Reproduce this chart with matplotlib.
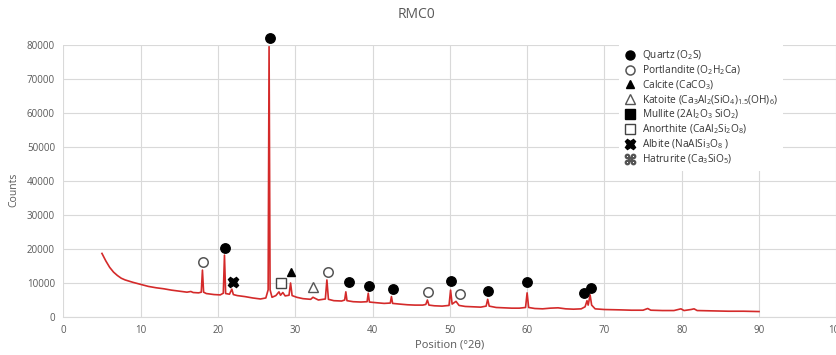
import matplotlib
matplotlib.use('Agg')
import matplotlib.pyplot as plt
from matplotlib.lines import Line2D

# XRD profile RMC0
two_theta = [5.0, 5.5, 6.0, 6.5, 7.0, 7.5, 8.0, 9.0, 10.0, 11.0, 12.0, 13.0, 14.0, 15.0,
             16.0, 16.5, 16.8, 17.5, 17.85, 18.0, 18.15, 18.5, 19.5, 20.3, 20.7, 20.85,
             21.0, 21.5, 21.8, 22.0, 22.5, 23.5, 24.5, 25.5, 26.2, 26.5, 26.62, 26.75,
             27.0, 27.5, 27.9, 28.1, 28.4, 28.7, 29.2, 29.4, 29.6, 30.2, 31.0, 32.0,
             32.3, 33.0, 33.9, 34.1, 34.3, 35.0, 36.0, 36.4, 36.55, 36.7, 37.5, 38.5,
             39.3, 39.45, 39.6, 40.5, 41.5, 42.3, 42.45, 42.6, 43.5, 44.5, 45.5, 46.5,
             46.9, 47.1, 47.3, 48.0, 49.0, 49.9, 50.1, 50.3, 50.8, 51.2, 52.0, 53.0,
             54.0, 54.7, 54.9, 55.1, 56.0, 57.0, 58.0, 59.0, 59.8, 60.0, 60.2, 61.0,
             62.0, 63.0, 64.0, 65.0, 66.0, 67.0, 67.5, 67.75, 67.9, 68.15, 68.35, 68.8,
             70.0, 72.0, 73.5, 75.0, 75.6, 76.0, 77.5, 79.0, 79.9, 80.3, 81.2, 81.6,
             82.0, 84.0, 86.0, 88.0, 90.0]
counts = [18700, 16500, 14600, 13200, 12200, 11400, 10900, 10200, 9600, 9000, 8600, 8300, 7900, 7600,
          7300, 7500, 7200, 7100, 7300, 13800, 7300, 6900, 6600, 6500, 7000, 18200,
          6900, 6700, 8200, 6600, 6300, 6000, 5600, 5300, 5600, 8000, 79500, 8000,
          5800, 6300, 7400, 6400, 7200, 6200, 6400, 10000, 6300, 5800, 5400, 5200,
          5800, 5000, 5300, 10900, 5200, 4800, 4700, 5000, 7400, 4800, 4500, 4400,
          4500, 7000, 4400, 4200, 4000, 4100, 6000, 4000, 3800, 3600, 3500, 3500,
          3700, 5000, 3500, 3300, 3200, 3400, 7900, 3800, 4600, 3400, 3100, 3000,
          2900, 3200, 5200, 3200, 2800, 2700, 2600, 2600, 2800, 7100, 2800, 2500,
          2400, 2600, 2700, 2400, 2300, 2400, 3000, 4800, 3500, 6500, 3500, 2400,
          2200, 2100, 2000, 2000, 2500, 2000, 1900, 1900, 2400, 1900, 2200, 2400,
          1900, 1800, 1700, 1700, 1600]

# phase markers (position, height of symbol)
quartz_x = [26.8, 20.9, 36.9, 39.5, 42.7, 50.2, 54.9, 60.0, 67.3, 68.3]
quartz_y = [82000, 20400, 10200, 9200, 8200, 10700, 7700, 10200, 7000, 8400]
portlandite_x = [18.1, 34.3, 47.2, 51.3]
portlandite_y = [16300, 13300, 7300, 6700]
calcite_x = [29.5]
calcite_y = [13100]
katoite_x = [32.3]
katoite_y = [8700]
anorthite_x = [28.2]
anorthite_y = [9900]
albite_x = [21.9]
albite_y = [10200]

phase_labels = [
    'Quartz (O$_2$S)',
    'Portlandite (O$_2$H$_2$Ca)',
    'Calcite (CaCO$_3$)',
    'Katoite (Ca$_3$Al$_2$(SiO$_4$)$_{1.5}$(OH)$_6$)',
    'Mullite (2Al$_2$O$_3$ SiO$_2$)',
    'Anorthite (CaAl$_2$Si$_2$O$_8$)',
    'Albite (NaAlSi$_3$O$_8$ )',
    'Hatrurite (Ca$_3$SiO$_5$)',
]

plt.rcParams['font.family'] = ['Open Sans', 'DejaVu Sans']
plt.rcParams['mathtext.default'] = 'regular'

gray = '#595959'
grid_c = '#d9d9d9'

fig = plt.figure(figsize=(8.36, 3.55), dpi=100)
ax = fig.add_axes([63.3 / 836, 1 - 317 / 355, 773 / 836, 272 / 355])

ax.plot(two_theta, counts, color='#d42a2a', lw=1.2, zorder=3)

mk = dict(linestyle='none', clip_on=False, zorder=4)
ax.plot(quartz_x, quartz_y, marker='o', ms=6.8, mfc='black', mec='black', **mk)
ax.plot(portlandite_x, portlandite_y, marker='o', ms=6.8, mfc='white', mec='#555555', mew=1.1, **mk)
ax.plot(calcite_x, calcite_y, marker='^', ms=6, mfc='black', mec='black', **mk)
ax.plot(katoite_x, katoite_y, marker='^', ms=6.5, mfc='white', mec='#555555', mew=1.0, **mk)
ax.plot(anorthite_x, anorthite_y, marker='s', ms=6.5, mfc='white', mec='#444444', mew=1.0, **mk)
ax.plot(albite_x, albite_y, marker='X', ms=7.5, mfc='black', mec='black', **mk)

ax.set_xlim(0, 100)
ax.set_ylim(0, 80000)
ax.set_xticks(range(0, 101, 10))
ax.set_yticks(range(0, 80001, 10000))
ax.grid(True, color=grid_c, lw=0.8)
ax.set_axisbelow(True)
for s in ['top', 'right', 'left']:
    ax.spines[s].set_visible(False)
ax.spines['bottom'].set_color(grid_c)
ax.tick_params(length=0, labelsize=7, labelcolor=gray, pad=6)

fig.text(0.498, 1 - 15 / 355, 'RMC0', ha='center', va='center', fontsize=10, color=gray)
fig.text(14 / 836, 1 - 190 / 355, 'Counts', rotation=90, ha='center', va='center',
         fontsize=7.5, color=gray)
fig.text(450 / 836, 1 - 345 / 355, 'Position (°2θ)', ha='center', va='center',
         fontsize=8, color=gray)

handles = [
    Line2D([], [], ls='none', marker='o', ms=6.5, mfc='black', mec='black'),
    Line2D([], [], ls='none', marker='o', ms=6.5, mfc='white', mec='#555555', mew=1.1),
    Line2D([], [], ls='none', marker='^', ms=5.5, mfc='black', mec='black'),
    Line2D([], [], ls='none', marker='^', ms=6.5, mfc='white', mec='#555555', mew=1.0),
    Line2D([], [], ls='none', marker='s', ms=6.5, mfc='black', mec='black'),
    Line2D([], [], ls='none', marker='s', ms=6.5, mfc='white', mec='#444444', mew=1.0),
    Line2D([], [], ls='none', marker='X', ms=7.5, mfc='black', mec='black'),
    Line2D([], [], ls='none', marker='$⌘$', ms=7.5, mfc='#555555', mec='#555555'),
]
leg = fig.legend(handles, phase_labels, loc='upper left',
                 bbox_to_anchor=(614 / 836, 1 - 38 / 355), fontsize=7.3,
                 frameon=True, facecolor='white', edgecolor='none', framealpha=1,
                 labelspacing=0.12, handlelength=1.1, handletextpad=0.7,
                 borderpad=0.5)
for t in leg.get_texts():
    t.set_color('#333333')

fig.savefig('out.png', dpi=100)
